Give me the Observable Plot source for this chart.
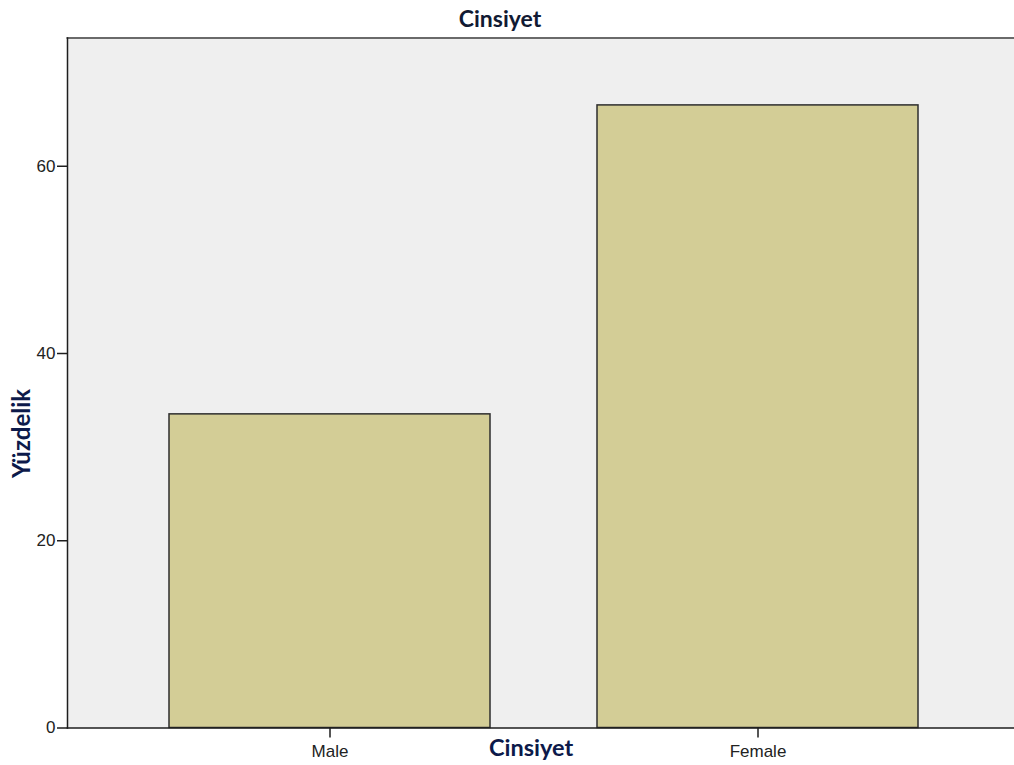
<!DOCTYPE html>
<html>
<head>
<meta charset="utf-8">
<script src="https://cdn.jsdelivr.net/npm/d3@7"></script>
<script src="https://cdn.jsdelivr.net/npm/@observablehq/plot@0.6"></script>
<style>
  html, body { margin: 0; padding: 0; background: #ffffff; }
  #wrap { width: 1014px; height: 765px; position: relative; overflow: hidden; }
  #title { height: 30px; width: 1000px; text-align: center; font-family: Lato, "Open Sans", sans-serif; font-weight: bold; font-size: 23px; line-height: 37px; color: #111a33; }
  svg { display: block; }
</style>
</head>
<body>
<div id="wrap">
  <div id="title">Cinsiyet</div>
</div>
<script>
const categories = ["Male", "Female"];
const percents = [33.5, 66.5];
const yTicks = [0, 20, 40, 60];
const xTitle = "Cinsiyet";
const yTitle = "Yüzdelik";

const data = categories.map((c, i) => ({cat: c, val: percents[i]}));

const chart = Plot.plot({
  width: 1014,
  height: 735,
  marginTop: 7.5,
  marginBottom: 37.5,
  marginLeft: 67,
  marginRight: 0,
  style: {fontFamily: "'Liberation Sans', Arial, sans-serif", fontSize: "17px", color: "#222", background: "#ffffff"},
  x: {domain: categories, range: [61, 1025], padding: 0.25, align: 0.5, label: null},
  y: {domain: [0, 73.7], label: null},
  marks: [
    Plot.frame({fill: "#efefef", stroke: null}),
    Plot.barY(data, {x: "cat", y: "val", fill: "#d3cd96", stroke: "#2e2e2e", strokeWidth: 1.5}),
    Plot.frame({anchor: "top", stroke: "#6a6a6a", strokeWidth: 2}),
    Plot.frame({anchor: "left", stroke: "#1e1e1e", strokeWidth: 1.5}),
    Plot.frame({anchor: "bottom", stroke: "#1e1e1e", strokeWidth: 1.5}),
    Plot.axisY({ticks: yTicks, tickSize: 10, tickPadding: 2, stroke: "#1e1e1e", strokeWidth: 1.5, fontSize: 17, fill: "#222", label: null}),
    Plot.axisX({tickSize: 10, tickPadding: 7, stroke: "#1e1e1e", strokeWidth: 1.5, fontSize: 17, fill: "#222", label: null}),
    Plot.text([xTitle], {frameAnchor: "bottom", textAnchor: "middle", lineAnchor: "middle", dx: -10, dy: 20.5, fontFamily: "Lato, 'Open Sans', sans-serif", fontWeight: "bold", fontSize: 23.5, fill: "#0d1a4a"}),
    Plot.text([yTitle], {frameAnchor: "left", textAnchor: "middle", lineAnchor: "middle", dx: -45, dy: 50.5, rotate: -90, fontFamily: "Lato, 'Open Sans', sans-serif", fontWeight: "bold", fontSize: 24, fill: "#0d1a4a"})
  ]
});
document.getElementById("wrap").appendChild(chart);
</script>
</body>
</html>
